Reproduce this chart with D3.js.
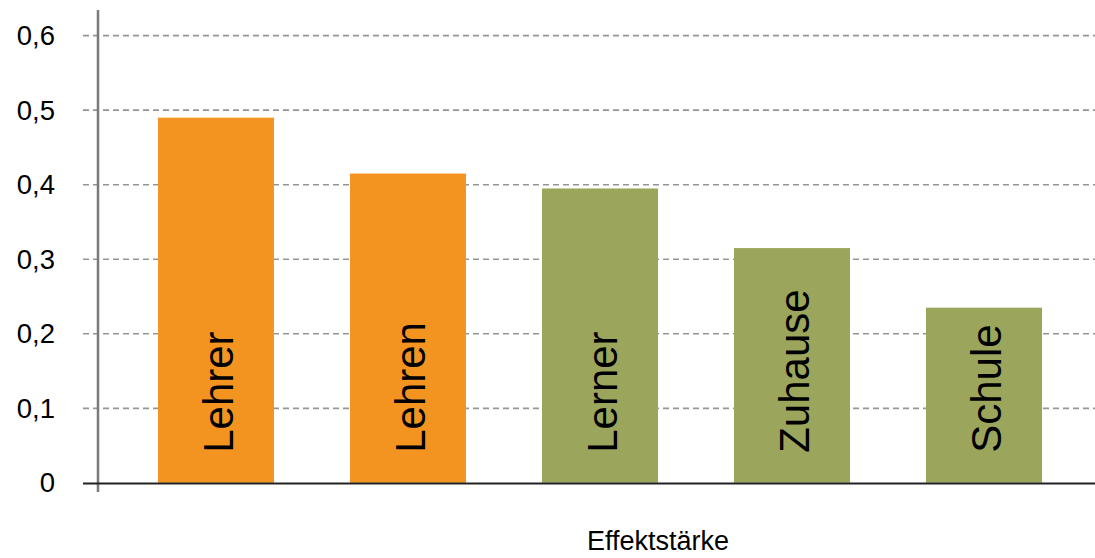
<!DOCTYPE html>
<html>
<head>
<meta charset="utf-8">
<script src="https://cdn.jsdelivr.net/npm/d3@7"></script>
<style>
  html, body { margin: 0; padding: 0; background: #fff; }
  svg { display: block; font-family: Arial, "Liberation Sans", sans-serif; }
</style>
</head>
<body>
<svg id="chart" width="1095" height="558"></svg>
<script>
const categories = ["Lehrer", "Lehren", "Lerner", "Zuhause", "Schule"];
const values = [0.49, 0.415, 0.395, 0.315, 0.235];
const groups = ["lehrer", "lehrer", "lerner", "lerner", "lerner"];
const tickValues = [0, 0.1, 0.2, 0.3, 0.4, 0.5, 0.6];
const tickLabels = ["0", "0,1", "0,2", "0,3", "0,4", "0,5", "0,6"];
const axisTitle = "Effektstärke";

const colors = { lehrer: "#F39420", lerner: "#9BA55C" };

const svg = d3.select("#chart");
const W = 1095, H = 558;

const x = d3.scaleBand().domain(categories).range([120, 1080]).paddingInner(0.396).paddingOuter(0.198);
const y = d3.scaleLinear().domain([0, 0.6]).range([482.8, 35.7]);

// gridlines
svg.append("g").selectAll("line").data(tickValues.filter(d => d > 0)).join("line")
  .attr("x1", 83).attr("x2", W)
  .attr("y1", d => y(d)).attr("y2", d => y(d))
  .attr("stroke", "#959595").attr("stroke-width", 1.7)
  .attr("stroke-dasharray", "6,4");

// tick labels
svg.append("g").selectAll("text").data(tickValues).join("text")
  .attr("x", 55).attr("y", d => y(d))
  .attr("text-anchor", "end").attr("dominant-baseline", "central")
  .attr("font-size", 27.5).attr("fill", "#000")
  .text((d, i) => tickLabels[i]);

// bars
svg.append("g").selectAll("rect").data(categories).join("rect")
  .attr("x", d => x(d)).attr("width", x.bandwidth())
  .attr("y", (d, i) => y(values[i]))
  .attr("height", (d, i) => y(0) - y(values[i]))
  .attr("fill", (d, i) => colors[groups[i]]);

// bar labels
svg.append("g").selectAll("text").data(categories).join("text")
  .attr("transform", d => `translate(${x(d) + x.bandwidth() / 2 + 17},${y(0) - 30}) rotate(-90)`)
  .attr("text-anchor", "start")
  .attr("font-size", 42).attr("fill", "#000")
  .text(d => d);

// y axis line
svg.append("line")
  .attr("x1", 98).attr("x2", 98).attr("y1", 10).attr("y2", 492)
  .attr("stroke", "#7a7a7a").attr("stroke-width", 2.5);

// x axis line
svg.append("line")
  .attr("x1", 83).attr("x2", W).attr("y1", y(0) + 0.7).attr("y2", y(0) + 0.7)
  .attr("stroke", "#222").attr("stroke-width", 2);

// axis title
svg.append("text")
  .attr("x", 658).attr("y", 550)
  .attr("text-anchor", "middle")
  .attr("font-size", 27).attr("fill", "#000")
  .text(axisTitle);
</script>
</body>
</html>
